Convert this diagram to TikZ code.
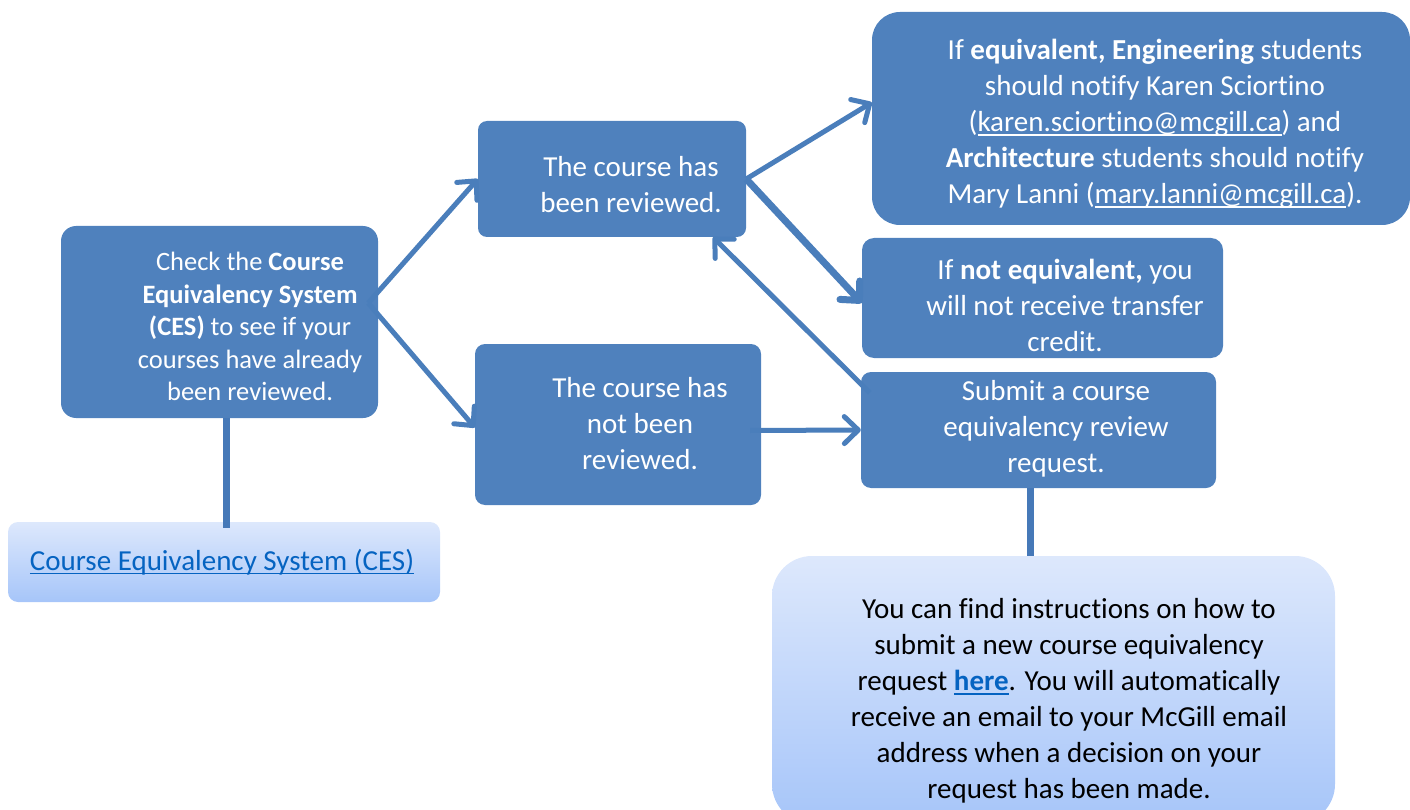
\documentclass[tikz,border=0pt]{standalone}
\usepackage{fontspec}
\setmainfont{Carlito}[Ligatures=NoCommon]
\usetikzlibrary{arrows.meta,positioning}

\definecolor{boxblue}{HTML}{4F81BD}
\definecolor{arrowblue}{HTML}{4A7EBB}
\definecolor{stemblue}{HTML}{4679B8}
\definecolor{linkblue}{HTML}{0563C1}
\definecolor{paletop}{HTML}{DDE8FC}
\definecolor{palebottom}{HTML}{A6C5F9}

% underlined link text
\newcommand\lnk[1]{\setbox0\hbox{#1}\rlap{\rule[-4pt]{\wd0}{1.6pt}}\box0}
% keeps t and i apart
\newcommand\nolg{\kern0pt}

\tikzset{
  box/.style={rectangle, rounded corners=#1, fill=boxblue, inner sep=0pt},
  box/.default=10pt,
  pale/.style={rectangle, rounded corners=#1, top color=paletop, bottom color=palebottom, inner sep=0pt},
  pale/.default=10pt,
  words/.style={text=white, align=center, inner sep=0pt, font=\fontsize{29}{36}\selectfont},
  flow/.style={draw=arrowblue, line width=5pt, -{Straight Barb[length=14pt,width=27pt,round]}},
  stem/.style={draw=stemblue, line width=7pt},
}

\begin{document}
\begin{tikzpicture}[x=1pt,y=-1pt]
    \useasboundingbox (0,0) rectangle (1410,810);

    % boxes
    \node[box=15pt, minimum width=317pt, minimum height=192pt] (check) at (219.5,322) {};
    \node[box=9pt, minimum width=268pt, minimum height=116pt] (done) at (612,179) {};
    \node[box, minimum width=286pt, minimum height=161pt] (notdone) at (618,424.5) {};
    \node[box=28pt, minimum width=538pt, minimum height=213pt] (equiv) at (1141,118.5) {};
    \node[box=12pt, minimum width=361pt, minimum height=120pt] (notequiv) at (1042.5,298) {};
    \node[box, minimum width=355pt, minimum height=116pt] (submit) at (1038.5,430) {};
    \node[pale, minimum width=432pt, minimum height=80pt] (ceslink) at (224,562) {};
    \node[pale=40pt, minimum width=563pt, minimum height=268pt] (howto) at (1053.5,690) {};

    % connectors
    \draw[flow] ([xshift=-10pt,yshift=19pt]check.east) -- (done.west);
    \draw[flow] ([xshift=-10pt,yshift=19pt]check.east) -- ([yshift=-3pt]notdone.west);
    \draw[flow] (done.east) -- ([yshift=16pt]equiv.west);
    \draw[flow, line width=7pt] (done.east) -- ([yshift=-5pt]notequiv.west);
    \draw[flow] ([xshift=9pt,yshift=-21pt]submit.north west) -- ([xshift=101pt]done.south);
    \draw[flow] ([xshift=-11pt,yshift=-6pt]notdone.east) -- (submit.west);
    \draw[stem] ([xshift=6.5pt]check.south) -- ([xshift=2pt,yshift=-6pt]ceslink.north);
    \draw[stem] ([xshift=-8.5pt]submit.south) -- ([xshift=-8.5pt]submit.south |- howto.north);

    % texts
    \node[words, font=\fontsize{26.5}{32.5}\selectfont] (checktext) at (250,326.5)
        {Check the \textbf{Course}\\ \textbf{Equivalency System}\\ \textbf{(CES)} to see if your\\ courses have already\\ been reviewed.};
    \node[words] (donetext) at (631,185) {The course has\\ been reviewed.};
    \node[words] (notdonetext) at (640,424) {The course has\\ not been\\ reviewed.};
    \node[words] (equivtext) at (1155,124)
        {If \textbf{equivalent, Engineering} students\\ should not\nolg ify Karen Sciort\nolg ino\\ (\lnk{karen.sciort\nolg ino@mcgill.ca}) and\\ \textbf{Architecture} students should not\nolg ify\\ Mary Lanni (\lnk{mary.lanni@mcgill.ca}).};
    \node[words] (notequivtext) at (1065,305) {If \textbf{not equivalent,} you\\ will not receive transfer\\ credit.};
    \node[words] (submittext) at (1056,429) {Submit a course\\ equivalency review\\ request.};
    \node[words, text=linkblue] (cestext) at (222,562) {\lnk{Course Equivalency System (CES)}};
    \node[words, text=black] (howtotext) at (1069,701)
        {You can find instructions on how to\\ submit a new course equivalency\\ request \textcolor{linkblue}{\lnk{\textbf{here}}}. You will automat\nolg ically\\ receive an email to your McGill email\\ address when a decision on your\\ request has been made.};
\end{tikzpicture}
\end{document}
